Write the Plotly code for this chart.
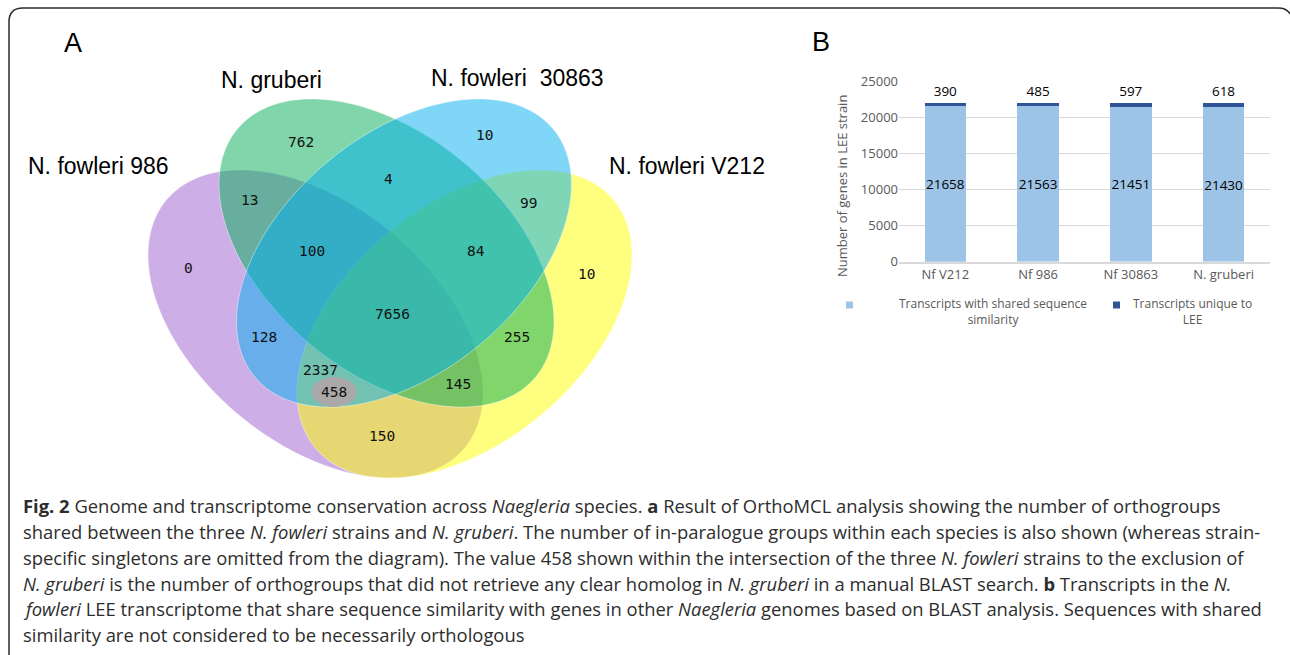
import numpy as np
import plotly.graph_objects as go

# ---------------- Panel A data (Venn, OrthoMCL orthogroups) ----------------
set_names = ["N. fowleri 986", "N. gruberi", "N. fowleri  30863", "N. fowleri V212"]
region_keys = ["986", "gru", "30863", "V212",
               "986&gru", "gru&30863", "30863&V212",
               "986&gru&30863", "gru&30863&V212", "all",
               "986&30863", "gru&V212", "986&30863&V212",
               "986&gru&V212", "986&V212"]
region_counts = [0, 762, 10, 10,
                 13, 4, 99,
                 100, 84, 7656,
                 128, 255, 2337,
                 145, 150]
no_gruberi_homolog = 458

# ---------------- Panel B data (stacked bars) ----------------
strains = ["Nf V212", "Nf 986", "Nf 30863", "N. gruberi"]
shared_counts = [21658, 21563, 21451, 21430]
unique_counts = [390, 485, 597, 618]
y_ticks = [0, 5000, 10000, 15000, 20000, 25000]
legend_labels = ["Transcripts with shared sequence<br>similarity",
                 "Transcripts unique to<br>LEE"]

# ---------------- layout helpers (pixel geometry) ----------------
W, H = 1290, 655
ELL_A, ELL_B, ELL_PHI = 194, 119, 39.7
ellipse_geom = {  # centre x, centre y, mirrored
    "N. fowleri 986": (315.5, 324, False),
    "N. fowleri V212": (464.5, 324, True),
    "N. gruberi": (386.5, 253, False),
    "N. fowleri  30863": (404, 253, True),
}
ellipse_fill = {
    "N. fowleri 986": "rgba(157,93,205,0.5)",
    "N. fowleri V212": "rgba(255,255,0,0.5)",
    "N. gruberi": "rgba(1,173,85,0.5)",
    "N. fowleri  30863": "rgba(0,173,239,0.5)",
}
draw_order = ["N. fowleri 986", "N. fowleri V212", "N. gruberi", "N. fowleri  30863"]
set_label_pos = {
    "N. fowleri 986": (98, 166),
    "N. gruberi": (271, 80),
    "N. fowleri  30863": (517, 78),
    "N. fowleri V212": (687, 166),
}
region_pos = {
    "986": (188, 268), "gru": (301, 142), "30863": (484, 135), "V212": (586, 274),
    "986&gru": (249, 200), "gru&30863": (388, 179), "30863&V212": (528, 203),
    "986&gru&30863": (312, 251), "gru&30863&V212": (476, 251), "all": (392, 314),
    "986&30863": (264, 337), "gru&V212": (517, 337), "986&30863&V212": (320, 370),
    "986&gru&V212": (458, 384), "986&V212": (382, 436),
}
special_pos = (334, 392)


def ellipse_path(cx, cy, a, b, phi_deg, mirror):
    t = np.linspace(0, 2 * np.pi, 181)
    phi = np.radians(phi_deg)
    dx = a * np.cos(t) * np.cos(phi) - b * np.sin(t) * np.sin(phi)
    dy = a * np.cos(t) * np.sin(phi) + b * np.sin(t) * np.cos(phi)
    if mirror:
        dx = -dx
    xs, ys = cx + dx, cy + dy
    return "M " + " L ".join(f"{x:.2f},{y:.2f}" for x, y in zip(xs, ys)) + " Z"


fig = go.Figure()

# invisible anchor trace for the pixel-space axes (panel A + decorations)
fig.add_trace(go.Scatter(x=[0, W], y=[0, H], mode="markers",
                         marker=dict(opacity=0), hoverinfo="skip",
                         showlegend=False, xaxis="x", yaxis="y"))

# ---- Panel B bars ----
fig.add_trace(go.Bar(
    x=strains, y=shared_counts, name=legend_labels[0],
    marker=dict(color="#9dc3e6", line=dict(width=0)),
    text=[str(v) for v in shared_counts], textposition="inside",
    insidetextanchor="middle", constraintext="none", textangle=0,
    textfont=dict(family="Open Sans", size=13.5, color="#000000"),
    xaxis="x2", yaxis="y2", showlegend=False))
fig.add_trace(go.Bar(
    x=strains, y=unique_counts, name=legend_labels[1],
    marker=dict(color="#2f5597", line=dict(width=0)),
    text=[str(v) for v in unique_counts], textposition="outside",
    constraintext="none", textangle=0, cliponaxis=False,
    textfont=dict(family="Open Sans", size=13.5, color="#000000"),
    xaxis="x2", yaxis="y2", showlegend=False))

shapes = []
for name in draw_order:
    cx, cy, mir = ellipse_geom[name]
    shapes.append(dict(type="path", xref="x", yref="y",
                       path=ellipse_path(cx, cy, ELL_A, ELL_B, ELL_PHI, mir),
                       fillcolor=ellipse_fill[name],
                       line=dict(color="rgba(255,255,255,0.55)", width=0.8)))
# grey highlight ellipse for 458
sx, sy = special_pos
shapes.append(dict(type="circle", xref="x", yref="y",
                   x0=sx - 22.5, x1=sx + 22.5, y0=sy - 15, y1=sy + 15,
                   fillcolor="#aaa8a8", line=dict(width=0)))
# figure frame (rounded, open at bottom)
shapes.append(dict(type="path", xref="x", yref="y",
                   path="M 9,700 L 9,22 Q 9,8 23,8 L 1278,8 Q 1287,8 1290,14",
                   line=dict(color="#2b2b2b", width=1.5)))
# legend markers for panel B
shapes.append(dict(type="rect", xref="x", yref="y", x0=846, x1=853, y0=301.5, y1=308.5,
                   fillcolor="#9dc3e6", line=dict(width=0)))
shapes.append(dict(type="rect", xref="x", yref="y", x0=1113, x1=1120, y0=301.5, y1=308.5,
                   fillcolor="#2f5597", line=dict(width=0)))

annotations = []
label_font = dict(family="Liberation Sans, Arial", size=23, color="#000000")
for name in set_names:
    x, y = set_label_pos[name]
    annotations.append(dict(x=x, y=y, xref="x", yref="y", text=name, showarrow=False,
                            font=label_font, xanchor="center", yanchor="middle"))
num_font = dict(family="DejaVu Sans Mono", size=14.5, color="#111111")
for key, cnt in zip(region_keys, region_counts):
    x, y = region_pos[key]
    annotations.append(dict(x=x, y=y, xref="x", yref="y", text=str(cnt), showarrow=False,
                            font=num_font, xanchor="center", yanchor="middle"))
annotations.append(dict(x=sx, y=sy, xref="x", yref="y", text=str(no_gruberi_homolog),
                        showarrow=False, font=num_font, xanchor="center", yanchor="middle"))

# panel letters
annotations.append(dict(x=73, y=43, xref="x", yref="y", text="A", showarrow=False,
                        font=dict(family="Liberation Sans, Arial", size=27, color="#000"),
                        xanchor="center", yanchor="middle"))
annotations.append(dict(x=821, y=42, xref="x", yref="y", text="B", showarrow=False,
                        font=dict(family="Liberation Sans, Arial", size=27, color="#000"),
                        xanchor="center", yanchor="middle"))

# panel B axis title and legend text
gray = "#595959"
annotations.append(dict(x=842, y=186, xref="x", yref="y", text="Number of genes in LEE strain",
                        showarrow=False, textangle=-90,
                        font=dict(family="Open Sans", size=13, color=gray),
                        xanchor="center", yanchor="middle"))
leg_font = dict(family="Open Sans", size=12, color=gray)
for txt, x in zip(legend_labels, [993, 1192]):
    annotations.append(dict(x=x, y=311, xref="x", yref="y", text=txt, showarrow=False,
                            font=leg_font, xanchor="center", yanchor="middle",
                            align="center"))

# caption
caption_lines = [
    "<b>Fig. 2</b> Genome and transcriptome conservation across <i>Naegleria</i> species. <b>a</b> Result of OrthoMCL analysis showing the number of orthogroups",
    "shared between the three <i>N. fowleri</i> strains and <i>N. gruberi</i>. The number of in-paralogue groups within each species is also shown (whereas strain-",
    "specific singletons are omitted from the diagram). The value 458 shown within the intersection of the three <i>N. fowleri</i> strains to the exclusion of",
    "<i>N. gruberi</i> is the number of orthogroups that did not retrieve any clear homolog in <i>N. gruberi</i> in a manual BLAST search. <b>b</b> Transcripts in the <i>N.</i>",
    "<i>fowleri</i> LEE transcriptome that share sequence similarity with genes in other <i>Naegleria</i> genomes based on BLAST analysis. Sequences with shared",
    "similarity are not considered to be necessarily orthologous",
]
caption_y = [505, 531, 557, 583, 608, 634]
for txt, y in zip(caption_lines, caption_y):
    annotations.append(dict(x=21, y=y, xref="x", yref="y", text=txt, showarrow=False,
                            font=dict(family="Open Sans", size=18.4, color="#2d2d2d"),
                            xanchor="left", yanchor="middle"))

# panel B domain (pixels -> paper)
bx0, bx1 = 899, 1270
by_top, by_bot = 81.7, 261.7

fig.update_layout(
    width=W, height=H, autosize=False,
    margin=dict(l=0, r=0, t=0, b=0, pad=0),
    paper_bgcolor="white", plot_bgcolor="rgba(0,0,0,0)",
    barmode="stack", bargap=0.55,
    showlegend=False,
    xaxis=dict(range=[0, W], domain=[0, 1], visible=False, fixedrange=True),
    yaxis=dict(range=[H, 0], domain=[0, 1], visible=False, fixedrange=True),
    xaxis2=dict(domain=[bx0 / W, bx1 / W], anchor="y2", showgrid=False,
                showline=True, linecolor="#d9d9d9", linewidth=1.5, ticks="",
                automargin=False,
                tickfont=dict(family="Open Sans", size=13, color=gray)),
    yaxis2=dict(domain=[1 - by_bot / H, 1 - by_top / H], anchor="x2",
                range=[0, 25000], tickvals=y_ticks, tickformat="d", showgrid=True,
                gridcolor="#d9d9d9", gridwidth=1, zeroline=False, showline=False,
                automargin=False,
                ticks="", tickfont=dict(family="Open Sans", size=13, color=gray)),
    shapes=shapes, annotations=annotations,
)

fig.write_html(
    "out.html",
    config={"responsive": False, "displayModeBar": False},
    post_script="document.body.style.margin='0';document.body.style.padding='0';"
                "document.body.style.overflow='hidden';",
)
